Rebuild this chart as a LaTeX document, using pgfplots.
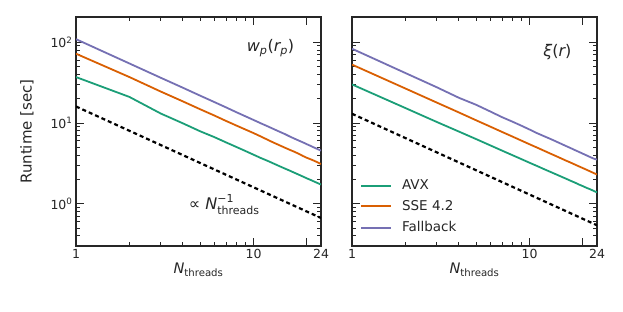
\documentclass[border=0pt]{standalone}
\usepackage{fontspec}
\setmainfont{DejaVu Sans}
\usepackage{pgfplots}
\usepackage{pgfplotstable}
\pgfplotsset{compat=1.18}
\definecolor{cavx}{HTML}{1B9E77}
\definecolor{csse}{HTML}{D95F02}
\definecolor{cfb}{HTML}{7570B3}
\definecolor{framecol}{HTML}{262626}
\pgfplotsset{legend image code/.code={\draw[#1, line width=2bp] (0bp,0bp) -- (30bp,0bp);}}

\pgfplotstableread{
N avx sse fb
1 37 72 109
2 21 37 54.5
3 13.1 24.5 36.3
4 9.9 18.5 27.3
5 7.9 14.8 21.8
6 6.7 12.4 18.2
7 5.75 10.6 15.6
8 5.05 9.3 13.6
9 4.5 8.3 12.1
10 4.05 7.5 10.9
11 3.68 6.8 9.9
12 3.4 6.2 9.1
13 3.14 5.7 8.4
14 2.92 5.3 7.8
15 2.73 4.95 7.3
16 2.57 4.65 6.8
17 2.42 4.4 6.4
18 2.29 4.15 6.05
19 2.17 3.9 5.75
20 2.06 3.7 5.45
21 1.97 3.55 5.2
22 1.88 3.4 4.95
23 1.80 3.25 4.74
24 1.73 3.1 4.54
}\lefttab

\pgfplotstableread{
N avx sse fb
1 30 52.8 83
2 15.3 26.7 41.5
3 10.3 17.9 27.7
4 7.83 13.5 20.5
5 6.32 10.8 16.8
6 5.29 9.03 13.9
7 4.55 7.75 11.8
8 4.0 6.80 10.4
9 3.57 6.05 9.25
10 3.22 5.45 8.3
11 2.94 4.97 7.5
12 2.70 4.56 6.9
13 2.50 4.21 6.4
14 2.33 3.92 5.95
15 2.18 3.66 5.55
16 2.05 3.43 5.2
17 1.93 3.24 4.9
18 1.83 3.06 4.62
19 1.73 2.90 4.38
20 1.65 2.76 4.16
21 1.57 2.63 3.96
22 1.51 2.51 3.78
23 1.44 2.40 3.62
24 1.385 2.30 3.52
}\righttab

\pgfplotstableread{
N y
1 16
24 0.6667
}\leftref

\pgfplotstableread{
N y
1 13
24 0.5417
}\rightref

\begin{document}
\begin{tikzpicture}
\path[use as bounding box] (0,0) rectangle (623bp,312bp);
\begin{axis}[
    at={(76bp,66bp)}, anchor=south west,
    scale only axis,
    width=245bp, height=229bp,
    xmode=log, ymode=log,
    xmin=1, xmax=24, ymin=0.3, ymax=205,
    xtick={1,10,20,24}, xticklabels={1,10,,24},
    minor xtick={2,3,4,5,6,7,8,9},
    ytick={1,10,100},
    minor ytick={0.3,0.4,0.5,0.6,0.7,0.8,0.9,2,3,4,5,6,7,8,9,20,30,40,50,60,70,80,90,200},
    tick align=inside,
    major tick length=8bp, minor tick length=4bp,
    tick style={line width=0.9bp, color=framecol},
    axis line style={line width=2bp, color=framecol},
    tick label style={font=\fontsize{12.5bp}{14bp}\selectfont, text=framecol},
    xlabel={{\itshape N}\textsubscript{threads}},
    xlabel style={font=\fontsize{14.5bp}{16bp}\selectfont, text=framecol, at={(axis description cs:0.5,-0.105)}, anchor=center},
    yticklabels={10\textsuperscript{0},10\textsuperscript{1},10\textsuperscript{2}},
    ylabel={Runtime [sec]},
    ylabel style={font=\fontsize{15bp}{17bp}\selectfont, text=framecol, at={(axis description cs:-0.2,0.5)}, anchor=center},
]
\addplot[cavx, line width=1.8bp] table[x=N,y=avx] {\lefttab};
\addplot[csse, line width=1.8bp] table[x=N,y=sse] {\lefttab};
\addplot[cfb, line width=1.8bp] table[x=N,y=fb] {\lefttab};
\addplot[black, line width=2.2bp, dash pattern=on 4bp off 3bp] table[x=N,y=y] {\leftref};
\node[anchor=east, font=\fontsize{16bp}{18bp}\selectfont, text=framecol] at (axis description cs:0.905,0.865)
  {{\itshape w}\textsubscript{\itshape p}({\itshape r}\textsubscript{\itshape p})};
\node[anchor=center, font=\fontsize{16bp}{18bp}\selectfont, text=framecol, inner sep=0pt] at (axis description cs:0.604,0.175)
  {∝ {\itshape N}\raisebox{0.05ex}{\fontsize{11bp}{9bp}\selectfont\begin{tabular}{@{}l@{}}−1\\[1bp]threads\end{tabular}}};
\end{axis}
\begin{axis}[
    at={(352bp,66bp)}, anchor=south west,
    scale only axis,
    width=245bp, height=229bp,
    xmode=log, ymode=log,
    xmin=1, xmax=24, ymin=0.3, ymax=205,
    xtick={1,10,20,24}, xticklabels={1,10,,24},
    minor xtick={2,3,4,5,6,7,8,9},
    ytick={1,10,100},
    minor ytick={0.3,0.4,0.5,0.6,0.7,0.8,0.9,2,3,4,5,6,7,8,9,20,30,40,50,60,70,80,90,200},
    tick align=inside,
    major tick length=8bp, minor tick length=4bp,
    tick style={line width=0.9bp, color=framecol},
    axis line style={line width=2bp, color=framecol},
    tick label style={font=\fontsize{12.5bp}{14bp}\selectfont, text=framecol},
    xlabel={{\itshape N}\textsubscript{threads}},
    xlabel style={font=\fontsize{14.5bp}{16bp}\selectfont, text=framecol, at={(axis description cs:0.5,-0.105)}, anchor=center},
    yticklabels={},
    legend cell align=left,
    legend style={draw=none, fill=none, at={(axis description cs:0.02,0.307)}, anchor=north west,
      font=\fontsize{13.5bp}{15bp}\selectfont, text=framecol, row sep=5.5bp,
      /tikz/every odd column/.append style={column sep=8bp}},
]
\addplot[cavx, line width=1.8bp] table[x=N,y=avx] {\righttab};
\addlegendentry{AVX}
\addplot[csse, line width=1.8bp] table[x=N,y=sse] {\righttab};
\addlegendentry{SSE 4.2}
\addplot[cfb, line width=1.8bp] table[x=N,y=fb] {\righttab};
\addlegendentry{Fallback}
\addplot[black, line width=2.2bp, dash pattern=on 4bp off 3bp, forget plot] table[x=N,y=y] {\rightref};
\node[anchor=east, font=\fontsize{16bp}{18bp}\selectfont, text=framecol] at (axis description cs:0.91,0.847)
  {{\itshape ξ}({\itshape r})};
\end{axis}
\end{tikzpicture}
\end{document}
